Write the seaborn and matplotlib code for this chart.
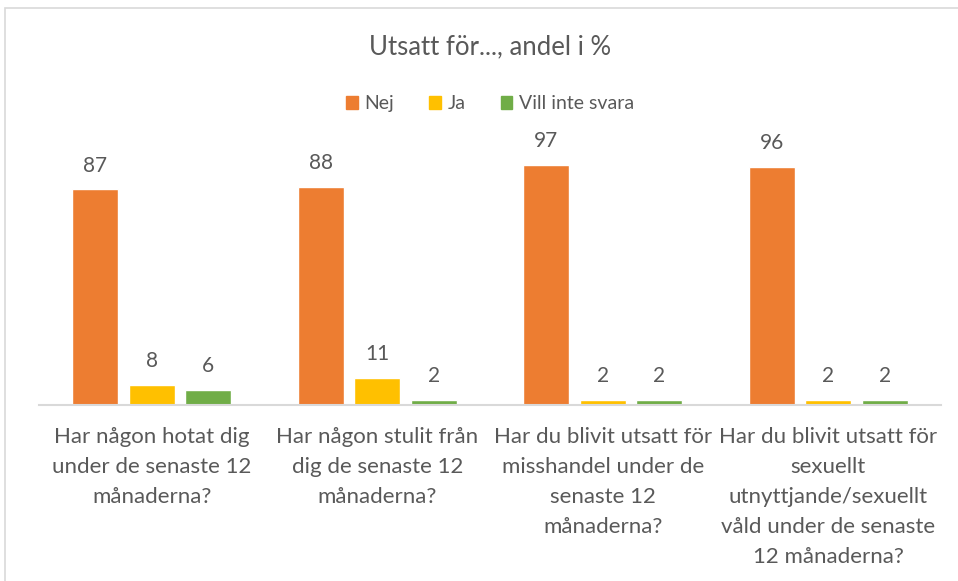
import matplotlib
matplotlib.use("Agg")
import matplotlib.pyplot as plt
import seaborn as sns
import pandas as pd
from matplotlib.patches import Rectangle

categories = [
    "Har någon hotat dig\nunder de senaste 12\nmånaderna?",
    "Har någon stulit från\ndig de senaste 12\nmånaderna?",
    "Har du blivit utsatt för\nmisshandel under de\nsenaste 12\nmånaderna?",
    "Har du blivit utsatt för\nsexuellt\nutnyttjande/sexuellt\nvåld under de senaste\n12 månaderna?",
]
series_names = ["Nej", "Ja", "Vill inte svara"]
nej = [87, 88, 97, 96]
ja = [8, 11, 2, 2]
vill_inte = [6, 2, 2, 2]
colors = ["#ED7D31", "#FFC000", "#70AD47"]

rows = []
for name, vals in zip(series_names, [nej, ja, vill_inte]):
    for c, v in zip(categories, vals):
        rows.append({"cat": c, "serie": name, "val": v})
df = pd.DataFrame(rows)

sns.set_theme(style="white")
plt.rcParams["font.family"] = ["Lato", "DejaVu Sans"]
txt = "#595959"

fig = plt.figure(figsize=(9.58, 5.81), dpi=100)
W, H = 958, 581
ax = fig.add_axes([39 / W, (H - 405) / H, (941 - 39) / W, (405 - 130) / H])

sns.barplot(data=df, x="cat", y="val", hue="serie", order=categories,
            hue_order=series_names, palette=colors, width=0.752, gap=0.186,
            saturation=1, ax=ax, legend=False)

for cont in ax.containers:
    ax.bar_label(cont, fmt="%d", padding=10, fontsize=15, color=txt)

ax.set_xlim(-0.5, 3.5)
ax.set_ylim(0, 111)
ax.set_xlabel("")
ax.set_ylabel("")
ax.set_yticks([])
for s in ["top", "right", "left"]:
    ax.spines[s].set_visible(False)
ax.spines["bottom"].set_color("#D9D9D9")
ax.spines["bottom"].set_linewidth(1.5)
ax.tick_params(axis="x", length=0, pad=16, labelsize=16, labelcolor=txt)
for lab in ax.get_xticklabels():
    lab.set_linespacing(1.62)
    lab.set_ha("center")
    lab.set_va("top")

cx = 490 / W
fig.text(cx, 1 - 47 / H, "Utsatt för..., andel i %", ha="center", va="center",
         fontsize=18.5, color=txt)

handles = [Rectangle((0, 0), 1, 1, color=c) for c in colors]
fig.legend(handles, series_names, loc="center", bbox_to_anchor=(cx, 1 - 104 / H),
           ncol=3, frameon=False, fontsize=14, labelcolor=txt,
           handlelength=0.6, handleheight=0.7, handletextpad=0.35, columnspacing=1.8)

fig.patches.append(Rectangle((5 / W, -0.05), 1.1, 1 - 8 / H + 0.05,
                             transform=fig.transFigure, fill=False,
                             edgecolor="#D9D9D9", linewidth=1.2))

fig.savefig("out.png", dpi=100)
